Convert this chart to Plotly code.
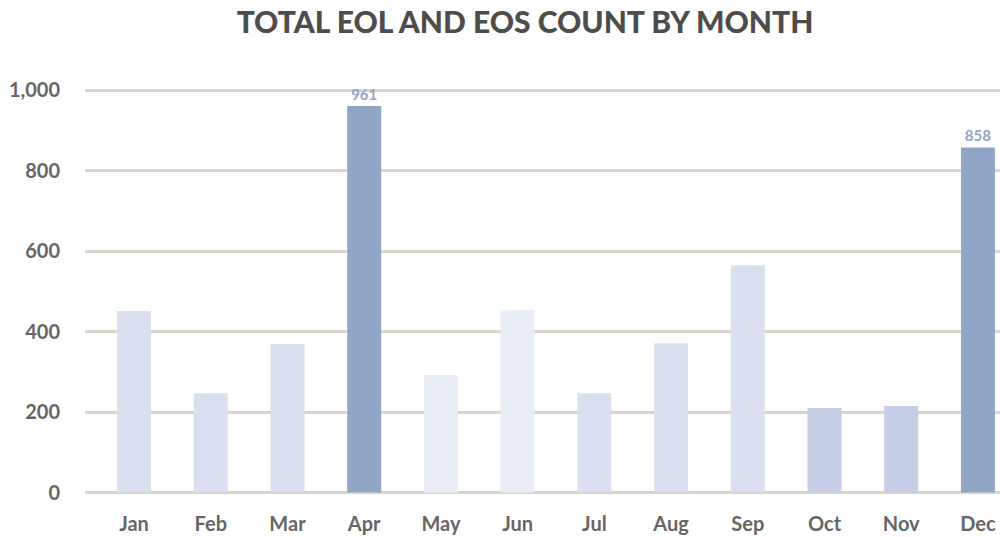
import plotly.graph_objects as go

months = ["Jan", "Feb", "Mar", "Apr", "May", "Jun", "Jul", "Aug", "Sep", "Oct", "Nov", "Dec"]
counts = [451, 247, 369, 961, 292, 453, 247, 371, 565, 210, 215, 858]
labels = ["", "", "", "961", "", "", "", "", "", "", "", "858"]
bar_colors = ["#dbe0f0", "#dbe0f0", "#dbe0f0", "#91a6c6", "#e9edf6", "#e9edf6",
              "#dbe0f0", "#dbe0f0", "#dbe0f0", "#c7cfe7", "#c7cfe7", "#91a6c6"]
y_ticks = [0, 200, 400, 600, 800, 1000]
y_ticktext = ["0", "200", "400", "600", "800", "1,000"]

FONT = "Lato"

fig = go.Figure(go.Bar(
    x=months, y=counts,
    marker=dict(color=bar_colors, line=dict(width=0)),
    text=labels, textposition="outside", cliponaxis=False,
    textfont=dict(family=FONT, size=15, color="#91a6c6", weight="bold"),
    hoverinfo="skip",
))

fig.update_layout(
    width=1000, height=537,
    margin=dict(l=85, r=0, t=80, b=37),
    paper_bgcolor="white", plot_bgcolor="white",
    bargap=0.557,
    showlegend=False,
    title=dict(text="TOTAL EOL AND EOS COUNT BY MONTH",
               x=0.525, xref="container", xanchor="center",
               y=1 - 22 / 537, yref="container", yanchor="middle",
               font=dict(family=FONT, size=30, color="#4d4d4d", weight=900)),
    xaxis=dict(range=[-0.639, 11.287], showgrid=False, zeroline=False, showline=False,
               ticks="outside", ticklen=6, tickcolor="rgba(0,0,0,0)",
               tickfont=dict(family=FONT, size=20, color="#666666", weight="bold")),
    yaxis=dict(range=[-18.6, 1025.6], tickvals=y_ticks, ticktext=y_ticktext,
               showgrid=True, gridcolor="#d8d5cd", gridwidth=2.5,
               zeroline=False, showline=False,
               ticks="outside", ticklen=20, tickcolor="rgba(0,0,0,0)",
               tickfont=dict(family=FONT, size=20, color="#666666", weight="bold")),
)

fig.write_html(
    "out.html",
    config={"displayModeBar": False},
    post_script="document.documentElement.style.overflow='hidden';"
                "document.body.style.margin='0';document.body.style.overflow='hidden';",
)
